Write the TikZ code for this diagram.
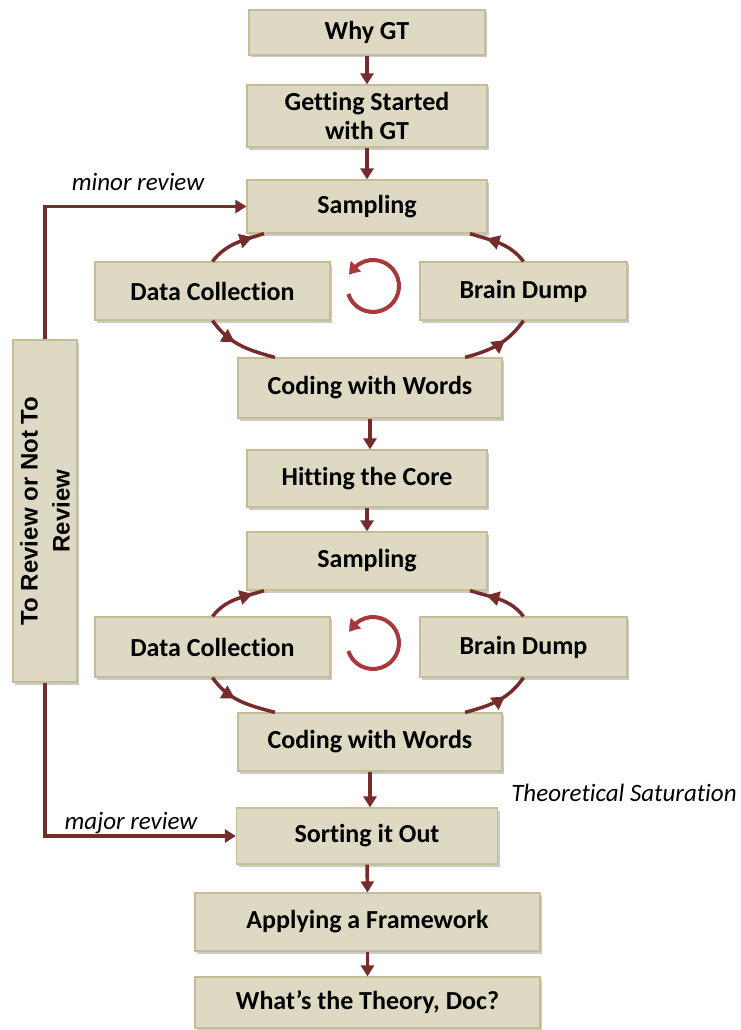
\documentclass[tikz,border=0pt]{standalone}
\usepackage{fontspec}
\setmainfont{Carlito}[Ligatures=NoCommon]
\newfontfamily\arialfont{Liberation Sans}
\usetikzlibrary{arrows.meta,shadows,decorations.markings,bending}
\definecolor{boxfill}{HTML}{DDD9C3}
\definecolor{boxline}{HTML}{C4BD97}
\definecolor{arrowred}{HTML}{772C2C}
\definecolor{iconred}{HTML}{A8383A}
\begin{document}
\begin{tikzpicture}[x=1pt,y=1pt,
  gtbox/.style={draw=boxline, line width=1.2pt, fill=boxfill, inner sep=0pt, align=center,
    font=\fontsize{26}{29.5}\selectfont\bfseries,
    drop shadow={shadow xshift=2pt,shadow yshift=-2.5pt,opacity=0.35,fill=black!60}},
  flow/.style={color=arrowred, line width=3.5pt, -{Triangle[length=11pt,width=13pt]}},
  link/.style={color=arrowred, line width=3.5pt, -{Triangle[length=11pt,width=13pt]}},
  cyc/.style={color=arrowred, line width=3.5pt, postaction={decorate},
    decoration={markings, mark=at position #1 with {\arrow{Triangle[length=13pt,width=14pt]}}}},
  lbl/.style={font=\fontsize{25}{28}\selectfont\itshape, inner sep=0pt}
]
\useasboundingbox (0,0) rectangle (741,-1030);

% main column
\node[gtbox, minimum width=236pt, minimum height=45pt] (why) at (367,-32.5) {Why GT};
\node[gtbox, minimum width=240pt, minimum height=62pt] (gs) at (367,-116) {Getting Started\\with GT};
\node[gtbox, minimum width=240pt, minimum height=53pt] (samp1) at (367,-206.5) {Sampling};
\node[gtbox, minimum width=235pt, minimum height=58pt] (dc1) at (212.5,-291) {Data Collection};
\node[gtbox, minimum width=207pt, minimum height=58pt] (bd1) at (523.5,-291) {Brain Dump};
\node[gtbox, minimum width=264pt, minimum height=60pt] (cw1) at (370,-388) {Coding with Words};
\node[gtbox, minimum width=240pt, minimum height=57pt] (hit) at (367,-478.5) {Hitting the Core};
\node[gtbox, minimum width=240pt, minimum height=58pt] (samp2) at (367,-561) {Sampling};
\node[gtbox, minimum width=235pt, minimum height=60pt] (dc2) at (212.5,-647) {Data Collection};
\node[gtbox, minimum width=207pt, minimum height=60pt] (bd2) at (523.5,-647) {Brain Dump};
\node[gtbox, minimum width=264pt, minimum height=58pt] (cw2) at (370,-742) {Coding with Words};
\node[gtbox, minimum width=261pt, minimum height=56pt] (sort) at (367,-836) {Sorting it Out};
\node[gtbox, minimum width=345pt, minimum height=58pt] (app) at (367.5,-922) {Applying a Framework};
\node[gtbox, minimum width=345pt, minimum height=51pt] (what) at (367.5,-1002.5) {What’s the Theory, Doc?};

% review box
\node[gtbox, minimum width=64pt, minimum height=342pt] (rev) at (45,-511) {};
\node[rotate=90, align=center, inner sep=0pt, font=\arialfont\fontsize{24}{32}\selectfont\bfseries] (revtext) at (rev) {To Review or Not To\\Review};

% straight flow arrows
\draw[flow] (why.south) -- (gs.north);
\draw[flow] (gs.south) -- (samp1.north);
\draw[flow] (cw1.south) -- (cw1.south |- hit.north);
\draw[flow] (hit.south) -- (samp2.north);
\draw[flow] (cw2.south) -- (cw2.south |- sort.north);
\draw[flow] (sort.south) -- (app.north);
\draw[flow] (app.south) -- (what.north);

% review links
\draw[link] (rev.north) |- (samp1.west);
\draw[link] (rev.south) |- (sort.west);
\node[lbl] (minor) at (138,-182) {minor review};
\node[lbl] (major) at (131,-823) {major review};
\node[lbl] (sat) at (624,-793) {Theoretical Saturation};

% cycle 1
\draw[cyc=0.8] (dc1.north) to[out=52,in=198] ([xshift=-103pt]samp1.south);
\draw[cyc=0.72] (bd1.north) to[out=128,in=-18] ([xshift=103pt]samp1.south);
\draw[cyc=0.42] (dc1.south) to[out=-55,in=165] ([xshift=-95pt]cw1.north);
\draw[cyc=0.62] ([xshift=95pt]cw1.north) to[out=15,in=-125] (bd1.south);
\coordinate (ic1) at (373,-286);
\draw[color=iconred, line width=4pt, -{Triangle[length=11pt,width=14pt,bend]}] ([shift={(198:26)}]ic1) arc[start angle=198, end angle=515, radius=26];

% cycle 2
\draw[cyc=0.8] (dc2.north) to[out=52,in=198] ([xshift=-103pt]samp2.south);
\draw[cyc=0.72] (bd2.north) to[out=128,in=-18] ([xshift=103pt]samp2.south);
\draw[cyc=0.42] (dc2.south) to[out=-55,in=165] ([xshift=-95pt]cw2.north);
\draw[cyc=0.62] ([xshift=95pt]cw2.north) to[out=15,in=-125] (bd2.south);
\coordinate (ic2) at (373,-643);
\draw[color=iconred, line width=4pt, -{Triangle[length=11pt,width=14pt,bend]}] ([shift={(198:26)}]ic2) arc[start angle=198, end angle=515, radius=26];
\end{tikzpicture}
\end{document}
